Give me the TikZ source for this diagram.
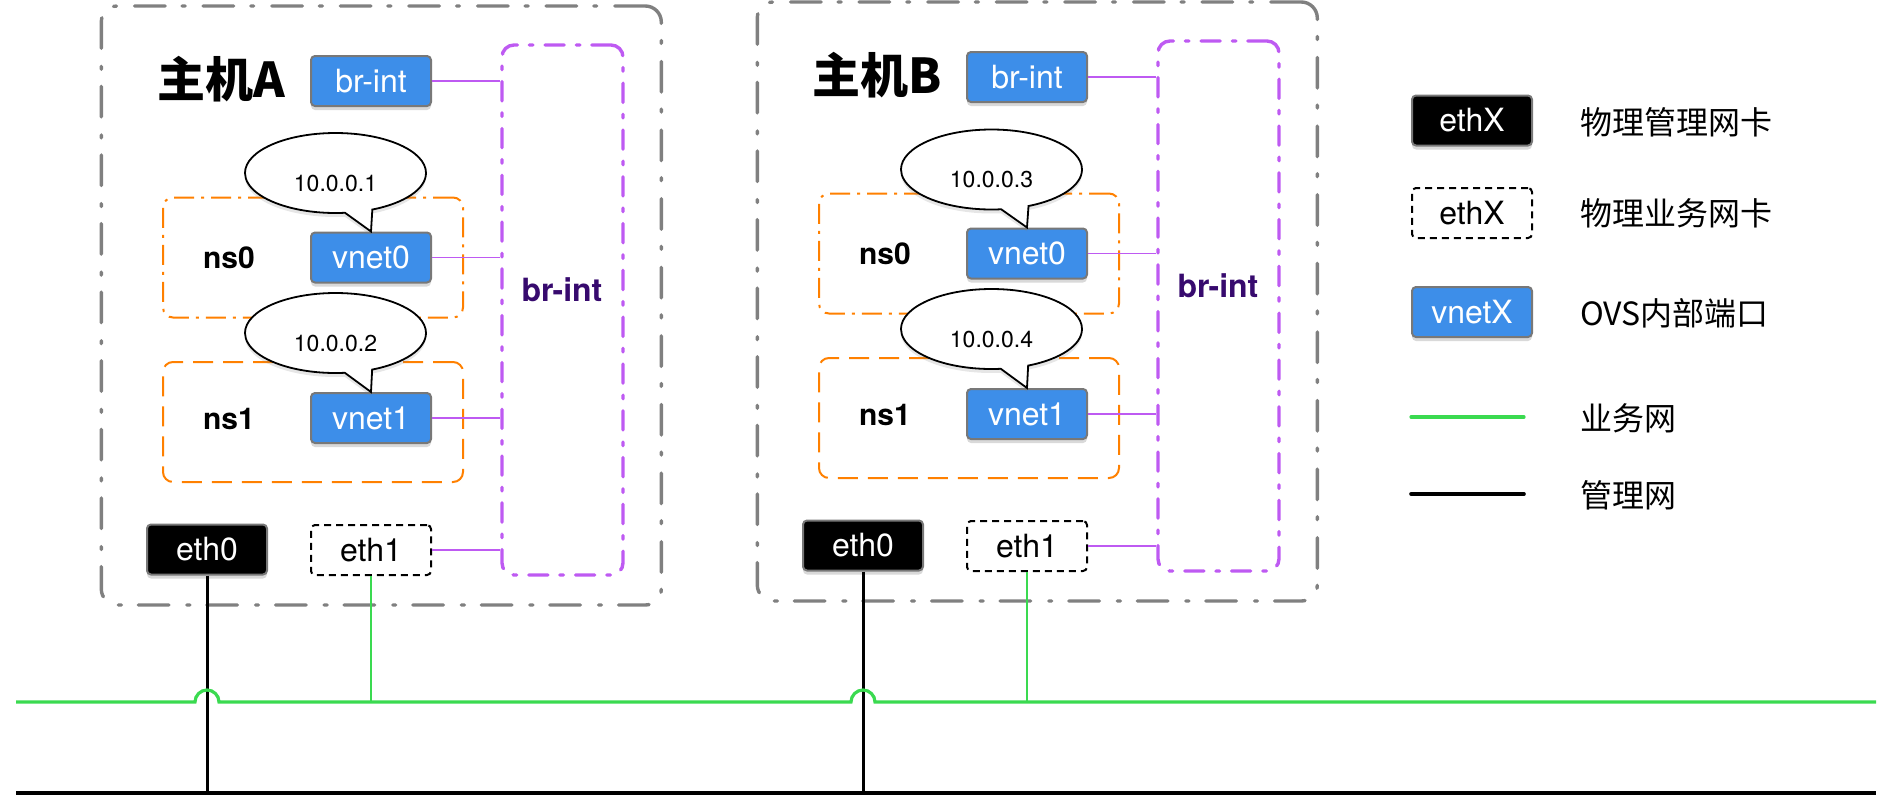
\documentclass[tikz,border=0pt]{standalone}
\usepackage{fontspec}
\setmainfont{TeX Gyre Heros}
\newfontfamily\cjk{Noto Sans CJK SC}
\usepackage{tikz}
\usetikzlibrary{calc}
\usetikzlibrary{shapes.callouts}
\usetikzlibrary{shadows}

\definecolor{portblue}{RGB}{61,142,233}
\definecolor{boxgray}{RGB}{120,120,120}
\definecolor{hostgray}{RGB}{128,128,128}
\definecolor{nsorange}{RGB}{255,128,0}
\definecolor{brpurple}{RGB}{190,90,242}
\definecolor{brtext}{RGB}{55,10,110}
\definecolor{bizgreen}{RGB}{58,218,80}

\begin{document}
\begin{tikzpicture}[x=0.5pt,y=-0.5pt,
  port/.style={rectangle,rounded corners=2pt,draw=boxgray,line width=1pt,
    minimum width=60pt,minimum height=25pt,inner sep=0pt,font=\fontsize{16}{19}\selectfont,
    drop shadow={shadow xshift=0pt,shadow yshift=-2pt,opacity=0.3}},
  ovs port/.style={port,fill=portblue,text=white},
  mgmt nic/.style={port,fill=black,text=white},
  biz nic/.style={rectangle,rounded corners=2pt,draw=black,line width=1pt,
    dash pattern=on 3.5pt off 2.5pt,fill=white,minimum width=60pt,minimum height=25pt,
    inner sep=0pt,font=\fontsize{16}{19}\selectfont},
  host box/.style={rectangle,rounded corners=8pt,draw=hostgray,line width=1.7pt,line cap=round,
    dash pattern=on 15.3pt off 9pt on 1.5pt off 8.5pt,minimum width=280pt,minimum height=299.5pt},
  bridge box/.style={rectangle,rounded corners=6pt,draw=brpurple,line width=1.7pt,line cap=round,
    dash pattern=on 9.6pt off 6pt on 1.8pt off 6pt,minimum width=60.5pt,minimum height=265pt},
  ns box/.style={rectangle,rounded corners=5pt,draw=nsorange,line width=1pt,
    minimum width=150pt,minimum height=60pt},
  ip bubble/.style={ellipse callout,draw,fill=white,line width=0.9pt,minimum width=90.5pt,
    minimum height=40pt,callout pointer arc=18,text height=18pt,text depth=0pt,
    font=\fontsize{11.5}{13}\selectfont,
    drop shadow={shadow xshift=0pt,shadow yshift=-2pt,opacity=0.2}},
  title/.style={font=\cjk\bfseries\fontsize{24}{28}\selectfont},
  ns label/.style={font=\bfseries\fontsize{15}{18}\selectfont},
  bridge label/.style={text=brtext,font=\bfseries\fontsize{16}{19}\selectfont},
  legend label/.style={anchor=west,font=\cjk\fontsize{16}{19}\selectfont},
  veth/.style={draw=brpurple,line width=0.8pt},
  biz line/.style={draw=bizgreen,line width=1.6pt},
  mgmt line/.style={draw=black,line width=2pt}]

  \useasboundingbox (0,0) rectangle (1892,798);

  \node[host box] (hostA) at (381.3,305.5) {};
  \node[host box] (hostB) at (1037.3,301.5) {};

  \node[ns box,dash pattern=on 10pt off 3.5pt on 1.5pt off 3.5pt] (ns0A) at (313,257.5) {};
  \node[ns box,dash pattern=on 10pt off 5pt] (ns1A) at (313,422) {};
  \node[ns box,dash pattern=on 10pt off 3.5pt on 1.5pt off 3.5pt] (ns0B) at (969,253.5) {};
  \node[ns box,dash pattern=on 10pt off 5pt] (ns1B) at (969,418) {};

  \node[bridge box] (brboxA) at (562.5,310) {};
  \node[bridge box] (brboxB) at (1218.5,306) {};
  \node[bridge label] (brlabelA) at (562,290) {br-int};
  \node[bridge label] (brlabelB) at (1218,286) {br-int};

  \node[title] (titleA) at (221,79) {主机A};
  \node[title] (titleB) at (877,75) {主机B};
  \node[ns label] (nsname0A) at (229,258) {ns0};
  \node[ns label] (nsname1A) at (229,419) {ns1};
  \node[ns label] (nsname0B) at (885,254) {ns0};
  \node[ns label] (nsname1B) at (885,415) {ns1};

  \node[ovs port] (brA) at (371,81) {br-int};
  \node[ovs port] (vnetA0) at (371,257.5) {vnet0};
  \node[ovs port] (vnetA1) at (371,418) {vnet1};
  \node[mgmt nic] (ethA0) at (207,549.5) {eth0};
  \node[biz nic] (ethA1) at (371,550) {eth1};

  \node[ovs port] (brB) at (1027,77) {br-int};
  \node[ovs port] (vnetB0) at (1027,253.5) {vnet0};
  \node[ovs port] (vnetB1) at (1027,414) {vnet1};
  \node[mgmt nic] (ethB0) at (863,545.5) {eth0};
  \node[biz nic] (ethB1) at (1027,546) {eth1};

  \node[ip bubble,callout absolute pointer={(vnetA0.north)}] (ipA0) at (335.5,173) {10.0.0.1};
  \node[ip bubble,callout absolute pointer={(vnetA1.north)}] (ipA1) at (335.5,333) {10.0.0.2};
  \node[ip bubble,callout absolute pointer={(vnetB0.north)}] (ipB0) at (991.5,169.5) {10.0.0.3};
  \node[ip bubble,callout absolute pointer={(vnetB1.north)}] (ipB1) at (991.5,329) {10.0.0.4};

  \draw[veth] (brA.east) -- (brA.east -| brboxA.west);
  \draw[veth] (vnetA0.east) -- (vnetA0.east -| brboxA.west);
  \draw[veth] (vnetA1.east) -- (vnetA1.east -| brboxA.west);
  \draw[veth] (ethA1.east) -- (ethA1.east -| brboxA.west);
  \draw[veth] (brB.east) -- (brB.east -| brboxB.west);
  \draw[veth] (vnetB0.east) -- (vnetB0.east -| brboxB.west);
  \draw[veth] (vnetB1.east) -- (vnetB1.east -| brboxB.west);
  \draw[veth] (ethB1.east) -- (ethB1.east -| brboxB.west);

  \coordinate (bizL) at (16,702);
  \coordinate (bizR) at (1876,702);
  \coordinate (mgmtL) at (16,793);
  \coordinate (mgmtR) at (1876,793);

  \draw[mgmt line] (mgmtL) -- (mgmtR);
  \draw[mgmt line,line width=1.5pt] (ethA0.south) -- (ethA0.south |- mgmtL);
  \draw[mgmt line,line width=1.5pt] (ethB0.south) -- (ethB0.south |- mgmtL);
  \draw[biz line,line width=1.4pt] (ethA1.south) -- (ethA1.south |- bizL);
  \draw[biz line,line width=1.4pt] (ethB1.south) -- (ethB1.south |- bizL);
  \draw[biz line] (bizL) -- ($(ethA0.south |- bizL)+(-12,0)$)
    arc[start angle=180,end angle=0,radius=6pt]
    -- ($(ethB0.south |- bizL)+(-12,0)$)
    arc[start angle=180,end angle=0,radius=6pt] -- (bizR);

  \node[mgmt nic] (legM) at (1472,120.5) {ethX};
  \node[biz nic] (legB) at (1472,213) {ethX};
  \node[ovs port] (legV) at (1472,312) {vnetX};
  \node[legend label] (legMtext) at (1573,122) {物理管理网卡};
  \node[legend label] (legBtext) at (1573,213) {物理业务网卡};
  \node[legend label] (legVtext) at (1573,313) {OVS内部端口};
  \node[legend label] (legBiztext) at (1573,418) {业务网};
  \node[legend label] (legMgmttext) at (1573,495) {管理网};
  \coordinate (legBizL) at (1411,417);
  \coordinate (legBizR) at (1524,417);
  \coordinate (legMgmtL) at (1411,494);
  \coordinate (legMgmtR) at (1524,494);
  \draw[biz line,line cap=round] (legBizL) -- (legBizR);
  \draw[mgmt line,line width=1.8pt,line cap=round] (legMgmtL) -- (legMgmtR);
\end{tikzpicture}
\end{document}
